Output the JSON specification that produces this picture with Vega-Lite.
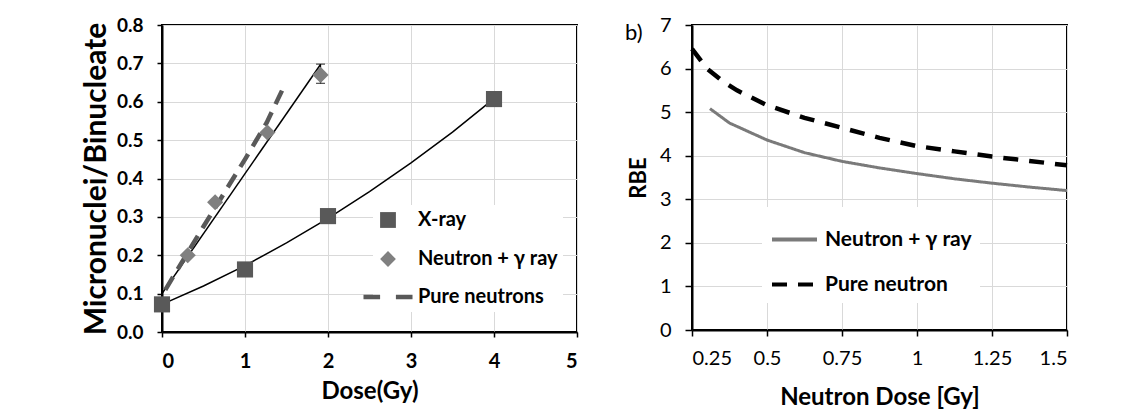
{
  "$schema": "https://vega.github.io/schema/vega-lite/v6.json",
  "padding": {"left": 80, "top": 14, "right": 5, "bottom": 5},
  "bounds": "flush",
  "spacing": 115,
  "background": "white",
  "config": {
    "font": "Lato",
    "view": {"stroke": "black", "strokeWidth": 2},
    "axis": {
      "gridColor": "#d9d9d9", "gridWidth": 1,
      "domainColor": "black", "domainWidth": 2,
      "tickColor": "black", "tickWidth": 1.5, "tickSize": 6,
      "labelColor": "black", "titleColor": "black",
      "labelFont": "Lato", "titleFont": "Lato"
    },
    "legend": {"labelFont": "Lato", "labelColor": "black"}
  },
  "resolve": {
    "scale": {"x": "independent", "y": "independent", "color": "independent", "shape": "independent", "strokeDash": "independent"},
    "legend": {"color": "independent", "shape": "independent", "strokeDash": "independent"}
  },
  "datasets": {
    "pts": [
      {"dose": 0, "mn": 0.072, "series": "X-ray"},
      {"dose": 1, "mn": 0.163, "series": "X-ray"},
      {"dose": 2, "mn": 0.302, "series": "X-ray"},
      {"dose": 4, "mn": 0.607, "series": "X-ray"},
      {"dose": 0.31, "mn": 0.2, "series": "Neutron + γ ray"},
      {"dose": 0.64, "mn": 0.338, "series": "Neutron + γ ray"},
      {"dose": 1.27, "mn": 0.52, "series": "Neutron + γ ray"},
      {"dose": 1.91, "mn": 0.67, "series": "Neutron + γ ray"}
    ],
    "err": [{"dose": 1.91, "lo": 0.648, "hi": 0.698}],
    "xfit": [
      {"dose": 0, "mn": 0.072}, {"dose": 0.5, "mn": 0.12}, {"dose": 1, "mn": 0.173},
      {"dose": 1.5, "mn": 0.232}, {"dose": 2, "mn": 0.296}, {"dose": 2.5, "mn": 0.366},
      {"dose": 3, "mn": 0.441}, {"dose": 3.5, "mn": 0.521}, {"dose": 4, "mn": 0.608}
    ],
    "nfit": [{"dose": 0, "mn": 0.1}, {"dose": 1.91, "mn": 0.697}],
    "pure": [
      {"dose": 0.04, "mn": 0.11}, {"dose": 0.5, "mn": 0.275}, {"dose": 1.0, "mn": 0.45},
      {"dose": 1.26, "mn": 0.545}, {"dose": 1.47, "mn": 0.64}
    ],
    "labels": [
      {"t": "b)", "nd": 0.027, "rbe": 6.82}
    ],
    "rbe": [
      {"nd": 0.31, "rbe": 5.08, "series": "Neutron + γ ray"},
      {"nd": 0.375, "rbe": 4.75, "series": "Neutron + γ ray"},
      {"nd": 0.5, "rbe": 4.36, "series": "Neutron + γ ray"},
      {"nd": 0.625, "rbe": 4.07, "series": "Neutron + γ ray"},
      {"nd": 0.75, "rbe": 3.87, "series": "Neutron + γ ray"},
      {"nd": 0.875, "rbe": 3.72, "series": "Neutron + γ ray"},
      {"nd": 1.0, "rbe": 3.59, "series": "Neutron + γ ray"},
      {"nd": 1.125, "rbe": 3.47, "series": "Neutron + γ ray"},
      {"nd": 1.25, "rbe": 3.37, "series": "Neutron + γ ray"},
      {"nd": 1.375, "rbe": 3.28, "series": "Neutron + γ ray"},
      {"nd": 1.5, "rbe": 3.2, "series": "Neutron + γ ray"}
    ],
    "rbep": [
      {"nd": 0.25, "rbe": 6.45, "series": "Pure neutron"},
      {"nd": 0.3, "rbe": 6.0, "series": "Pure neutron"},
      {"nd": 0.35, "rbe": 5.72, "series": "Pure neutron"},
      {"nd": 0.4, "rbe": 5.5, "series": "Pure neutron"},
      {"nd": 0.5, "rbe": 5.16, "series": "Pure neutron"},
      {"nd": 0.625, "rbe": 4.87, "series": "Pure neutron"},
      {"nd": 0.75, "rbe": 4.64, "series": "Pure neutron"},
      {"nd": 0.875, "rbe": 4.41, "series": "Pure neutron"},
      {"nd": 1.0, "rbe": 4.22, "series": "Pure neutron"},
      {"nd": 1.125, "rbe": 4.1, "series": "Pure neutron"},
      {"nd": 1.25, "rbe": 3.98, "series": "Pure neutron"},
      {"nd": 1.375, "rbe": 3.88, "series": "Pure neutron"},
      {"nd": 1.5, "rbe": 3.78, "series": "Pure neutron"}
    ]
  },
  "hconcat": [
    {
      "width": 415,
      "height": 307,
      "encoding": {
        "x": {"field": "dose", "type": "quantitative",
          "scale": {"domain": [0, 5], "nice": false},
          "axis": {"values": [0, 1, 2, 3, 4, 5], "labelFontSize": 20, "labelFontWeight": "bold", "labelPadding": 14, "tickSize": 5,
            "title": "Dose(Gy)", "titleFontSize": 24, "titleFontWeight": "bold", "titlePadding": 8}},
        "y": {"field": "mn", "type": "quantitative",
          "scale": {"domain": [0, 0.8], "nice": false},
          "axis": {"values": [0, 0.1, 0.2, 0.3, 0.4, 0.5, 0.6, 0.7, 0.8], "format": ".1f", "labelFontSize": 19, "labelFontWeight": "bold", "labelPadding": 14, "tickSize": 5,
            "title": "Micronuclei/Binucleate", "titleFontSize": 30, "titleFontWeight": "bold", "titlePadding": 5}}
      },
      "layer": [
        {"data": {"name": "xfit"}, "mark": {"type": "line", "color": "black", "strokeWidth": 1.5}},
        {"data": {"name": "nfit"}, "mark": {"type": "line", "color": "black", "strokeWidth": 1.5}},
        {"data": {"name": "pure"}, "mark": {"type": "line", "color": "#595959", "strokeWidth": 4.5, "strokeDash": [15, 9]}},
        {"data": {"name": "err"}, "mark": {"type": "errorbar", "color": "black", "thickness": 1.2, "ticks": {"size": 9, "color": "black"}},
          "encoding": {"x": {"field": "dose", "type": "quantitative"}, "y": {"field": "lo", "type": "quantitative"}, "y2": {"field": "hi"}}},
        {"data": {"name": "pts"}, "mark": {"type": "point", "filled": true, "size": 260, "opacity": 1},
          "encoding": {
            "color": {"field": "series", "type": "nominal",
              "scale": {"domain": ["X-ray", "Neutron + γ ray", "Pure neutrons"], "range": ["#595959", "#808080", "#595959"]},
              "legend": {"orient": "none", "legendX": 211, "legendY": 180, "title": null, "fillColor": "white", "padding": 5,
                "symbolSize": 250, "symbolOpacity": 1, "labelFontSize": 20, "labelFontWeight": "bold", "labelOffset": 20, "rowPadding": 17}},
            "shape": {"field": "series", "type": "nominal",
              "scale": {"domain": ["X-ray", "Neutron + γ ray", "Pure neutrons"], "range": ["square", "diamond", "M-3.1,-0.27H-1.0V0.27H-3.1ZM1.0,-0.27H3.1V0.27H1.0Z"]},
              "legend": {"orient": "none", "legendX": 211, "legendY": 180, "title": null, "fillColor": "white", "padding": 5,
                "symbolSize": 250, "symbolOpacity": 1, "labelFontSize": 20, "labelFontWeight": "bold", "labelOffset": 20, "rowPadding": 17}}
          }},
        {"data": {"values": [{"t": "a)"}]}, "mark": {"type": "text", "fontSize": 20, "align": "left", "baseline": "middle", "color": "black"},
          "encoding": {"x": {"datum": 0.28}, "y": {"datum": 0.729}, "text": {"field": "t"}}}
      ]
    },
    {
      "width": 375,
      "height": 305,
      "layer": [
        {"data": {"name": "rbe"}, "mark": {"type": "line", "strokeWidth": 3},
          "encoding": {
            "x": {"field": "nd", "type": "quantitative",
              "scale": {"domain": [0.25, 1.5], "nice": false, "zero": false},
              "axis": {"values": [0.25, 0.5, 0.75, 1, 1.25, 1.5], "labelExpr": "datum.value + ''", "labelFontSize": 20, "labelPadding": 12, "tickSize": 6,
                "title": "Neutron Dose [Gy]", "titleFontSize": 24, "titleFontWeight": "bold", "titlePadding": 17}},
            "y": {"field": "rbe", "type": "quantitative",
              "scale": {"domain": [0, 7], "nice": false},
              "axis": {"values": [0, 1, 2, 3, 4, 5, 6, 7], "labelFontSize": 20, "labelPadding": 14, "tickSize": 7,
                "title": "RBE", "titleFontSize": 22, "titleFontWeight": "bold", "titlePadding": 9}},
            "color": {"field": "series", "type": "nominal",
              "scale": {"domain": ["Neutron + γ ray", "Pure neutron"], "range": ["#7a7a7a", "black"]},
              "legend": {"orient": "none", "legendX": 70, "legendY": 182, "title": null, "fillColor": "white", "padding": 8,
                "symbolSize": 2025, "symbolStrokeWidth": 4, "labelFontSize": 21, "labelFontWeight": "bold", "labelOffset": 6, "rowPadding": 10}},
            "strokeDash": {"field": "series", "type": "nominal",
              "scale": {"domain": ["Neutron + γ ray", "Pure neutron"], "range": [[1, 0], [15, 11]]},
              "legend": {"orient": "none", "legendX": 70, "legendY": 182, "title": null, "fillColor": "white", "padding": 8,
                "symbolSize": 2025, "symbolStrokeWidth": 4, "labelFontSize": 21, "labelFontWeight": "bold", "labelOffset": 6, "rowPadding": 10}}
          }},
        {"data": {"name": "rbep"}, "mark": {"type": "line", "strokeWidth": 4.5},
          "encoding": {
            "x": {"field": "nd", "type": "quantitative"},
            "y": {"field": "rbe", "type": "quantitative"},
            "color": {"field": "series", "type": "nominal"},
            "strokeDash": {"field": "series", "type": "nominal"}
          }},
        {"data": {"name": "labels"}, "mark": {"type": "text", "fontSize": 22, "align": "left", "baseline": "middle", "color": "black"},
          "encoding": {"x": {"field": "nd", "type": "quantitative"}, "y": {"field": "rbe", "type": "quantitative"}, "text": {"field": "t", "type": "nominal"}, "size": {"value": 22}}}
      ]
    }
  ]
}
